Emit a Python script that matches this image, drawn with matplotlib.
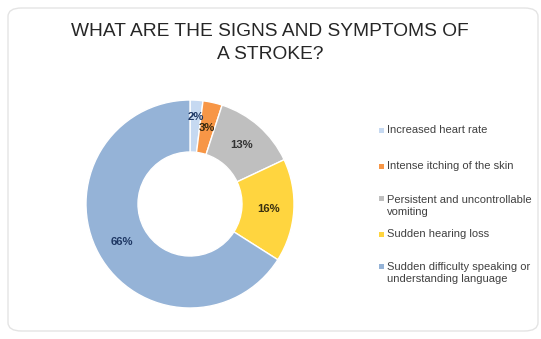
import numpy as np
import matplotlib
matplotlib.use("Agg")
import matplotlib.pyplot as plt
from matplotlib.patches import FancyBboxPatch

# data
symptoms = [
    "Increased heart rate",
    "Intense itching of the skin",
    "Persistent and uncontrollable\nvomiting",
    "Sudden hearing loss",
    "Sudden difficulty speaking or\nunderstanding language",
]
shares = [2, 3, 13, 16, 66]
colors = ["#c6d9f1", "#f79646", "#bfbfbf", "#ffd53f", "#95b3d7"]
label_colors = ["#1f3864", "#3a2a10", "#333333", "#3a3010", "#1f3864"]
label_radius = [0.84, 0.75, 0.75, 0.76, 0.75]

plt.rcParams['font.family'] = ['Liberation Sans', 'DejaVu Sans']

fig = plt.figure(figsize=(5.41, 3.39), dpi=100)
fig.patch.set_facecolor("white")

# faint rounded card around the chart
card = FancyBboxPatch((8 / 541, 8 / 339), 530 / 541, 323 / 339,
                      boxstyle="round,pad=0,rounding_size=0.025",
                      transform=fig.transFigure, facecolor="white",
                      edgecolor="#e4e4e4", linewidth=1.0, zorder=-5)
fig.patches.append(card)

fig.text(270 / 541, 1 - 43 / 339, "WHAT ARE THE SIGNS AND SYMPTOMS OF\nA STROKE?",
         ha="center", va="center", fontsize=13.8, color="#262626", linespacing=1.4)

cx, cy, r = 190, 204, 104
ax = fig.add_axes([(cx - r) / 541, (339 - cy - r) / 339, 2 * r / 541, 2 * r / 339])
ax.set_zorder(2)
wedges, _ = ax.pie(shares, colors=colors, startangle=90, counterclock=False,
                   wedgeprops=dict(width=0.5, edgecolor="white", linewidth=1.0),
                   radius=1.0)
for w, v, lc, lr in zip(wedges, shares, label_colors, label_radius):
    mid = np.deg2rad((w.theta1 + w.theta2) / 2)
    ax.text(lr * np.cos(mid), lr * np.sin(mid), f"{v}%", ha="center", va="center",
            fontsize=8.2, fontweight="bold", color=lc)
ax.set_xlim(-1.0, 1.0)
ax.set_ylim(-1.0, 1.0)
ax.set_aspect("equal")
ax.axis("off")

# legend
legend_y = [130, 166, 205.5, 234, 273.5]
for sym, col, ly in zip(symptoms, colors, legend_y):
    first_line_y = ly - 7 if "\n" in sym else ly
    fig.patches.append(plt.Rectangle((379 / 541, 1 - (first_line_y + 2.5) / 339), 5 / 541, 5 / 339,
                                     transform=fig.transFigure, facecolor=col,
                                     edgecolor="none"))
    fig.text(387 / 541, 1 - ly / 339, sym, ha="left", va="center",
             fontsize=8.0, color="#404040", linespacing=1.25)

fig.savefig("out.png", dpi=100, facecolor="white")
